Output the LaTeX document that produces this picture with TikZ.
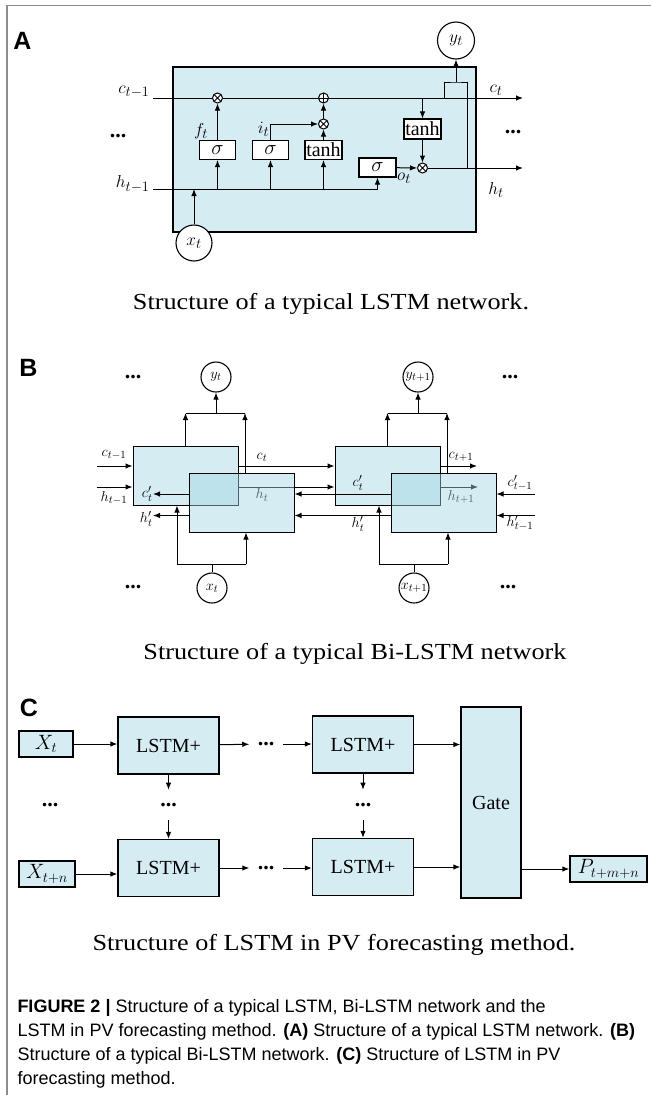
\documentclass[tikz,border=0pt]{standalone}
\usepackage{graphicx}
\usepackage{fontspec}
\setmainfont{Liberation Serif}
\setsansfont{Liberation Sans}
\usetikzlibrary{arrows.meta,positioning}
\definecolor{cellblue}{RGB}{213,236,243}
\definecolor{cellbase}{RGB}{162,213,228}
\definecolor{framegray}{RGB}{140,140,140}
\newcommand\widecap[1]{\scalebox{1.14}[1]{#1}}

\begin{document}
\begin{tikzpicture}[x=1pt,y=-1pt,line width=1pt,>={Latex[length=7pt,width=5.5pt]},
  panlbl/.style={font=\fontsize{25}{25}\selectfont\sffamily\bfseries,inner sep=0pt},
  capt/.style={font=\fontsize{23}{23}\selectfont,inner sep=0pt,anchor=base},
  lbl/.style={font=\fontsize{19}{19}\selectfont,inner sep=0pt},
  lblB/.style={font=\fontsize{15.5}{15.5}\selectfont,inner sep=0pt},
  dotsn/.style={font=\fontsize{22}{22}\selectfont\bfseries,inner sep=0pt},
  cell/.style={draw,line width=1.3pt,fill=cellblue,inner sep=0pt},
  gatebox/.style={draw,line width=1.1pt,fill=white,inner sep=0pt,minimum width=36pt,minimum height=19pt,font=\fontsize{20}{20}\selectfont},
  mult/.style={circle,draw,fill=white,inner sep=0pt,minimum size=10pt,
    path picture={\draw[line width=0.8pt] (path picture bounding box.north west) -- (path picture bounding box.south east)
      (path picture bounding box.north east) -- (path picture bounding box.south west);}},
  addn/.style={circle,draw,fill=white,inner sep=0pt,minimum size=10pt,
    path picture={\draw[line width=0.8pt] (path picture bounding box.north) -- (path picture bounding box.south)
      (path picture bounding box.east) -- (path picture bounding box.west);}},
  unit/.style={circle,draw,line width=1.1pt,fill=white,inner sep=0pt},
  bibox/.style={draw,fill=cellbase,fill opacity=0.45,text opacity=1,minimum width=105pt,minimum height=59pt},
  lstm/.style={cell,minimum width=101pt,minimum height=57pt,font=\fontsize{20}{20}\selectfont},
  inbox/.style={cell,minimum height=26pt,font=\fontsize{20}{20}\selectfont},
  cdots/.style={dotsn,inner xsep=8pt,inner ysep=13pt}]
  \useasboundingbox (0,0) rectangle (651,1095);
  \draw[framegray,line width=1.2pt] (7,1095) -- (7,5.5) -- (651,5.5);

  % --- A: typical LSTM cell
  \node[panlbl] (labA) at (22.5,41) {A};
  \node[cell,minimum width=303pt,minimum height=165pt] (cellA) at (324.5,149.5) {};
  \coordinate (cin) at (153,98);
  \coordinate (cout) at (523,98);
  \coordinate (hin) at (153,189);
  \coordinate (hout) at (523,168);
  \node[mult] (mf) at (217.5,98) {};
  \node[addn] (ad) at (323.5,98) {};
  \node[mult] (mi) at (323.5,124) {};
  \node[gatebox] (sf) at (217.5,150) {$\sigma$};
  \node[gatebox] (si) at (270.5,150) {$\sigma$};
  \node[gatebox,minimum width=37pt] (tg) at (323.5,150) {tanh};
  \node[gatebox,minimum width=37pt] (so) at (377.5,167.5) {$\sigma$};
  \node[gatebox,minimum width=37pt,minimum height=20pt] (to) at (422.5,129) {tanh};
  \node[mult] (mo) at (422.5,168) {};
  \node[unit,minimum size=37pt,font=\fontsize{19}{19}\selectfont] (yA) at (456,40.5) {$y_t$};
  \node[unit,minimum size=36pt,font=\fontsize{19}{19}\selectfont] (xA) at (194,243) {$x_t$};
  \draw[->] (cin) -- (mf) -- (ad) -- (cout);
  \draw[->] (hin) -| (so);
  \draw[->] (xA) -- (xA |- hin);
  \draw[->] (sf |- hin) -- (sf);
  \draw[->] (si |- hin) -- (si);
  \draw[->] (tg |- hin) -- (tg);
  \draw[->] (sf) -- (mf);
  \draw[->] (si) |- (mi);
  \draw[->] (tg) -- (mi);
  \draw[->] (mi) -- (ad);
  \draw[->] (to |- cin) -- (to);
  \draw[->] (to) -- (mo);
  \draw[->] (so) -- (mo);
  \draw[->] (mo) -- (hout);
  \coordinate (brL) at (444,98);
  \coordinate (brT) at (456,82);
  \coordinate (brR) at (467,168);
  \draw (brL) |- (brT) -| (brR);
  \draw[->] (brT) -- (yA);
  \node[lbl,anchor=east] (lcA) at (150,92) {$c_{t-1}$};
  \node[lbl,anchor=east] (lhA) at (150,184) {$h_{t-1}$};
  \node[lbl] (lctA) at (496,90) {$c_t$};
  \node[lbl] (lhtA) at (496,190) {$h_t$};
  \node[lbl] (lf) at (201,131) {$f_t$};
  \node[lbl] (li) at (263.5,129) {$i_t$};
  \node[lbl] (lo) at (404,178) {$o_t$};
  \node[dotsn] (dA1) at (118,136) {...};
  \node[dotsn] (dA2) at (513,132) {...};
  \node[capt] (capA) at (331,309) {\widecap{Structure of a typical LSTM network.}};

  % --- B: Bi-LSTM
  \node[panlbl] (labB) at (28.5,367.5) {B};
  \foreach \dx [count=\k] in {0,202} {
    \node[bibox] (fw\k) at (185.5+\dx,475.5) {};
    \coordinate (tp\k) at (216+\dx,413);
    \coordinate (rt\k) at (245+\dx,413);
    \coordinate (bt\k) at (212+\dx,564);
    \coordinate (bl\k) at (177+\dx,564);
    \coordinate (br\k) at (246+\dx,564);
  }
  \node[unit,minimum size=30pt,font=\fontsize{15.5}{15.5}\selectfont] (yB1) at (216,377) {$y_t$};
  \node[unit,minimum size=30pt,font=\fontsize{15.5}{15.5}\selectfont] (yB2) at (418,377) {$y_{t+1}$};
  \node[unit,minimum size=30pt,font=\fontsize{15.5}{15.5}\selectfont] (xB1) at (212,588) {$x_t$};
  \node[unit,minimum size=30pt,font=\fontsize{15.5}{15.5}\selectfont] (xB2) at (414,588) {$x_{t+1}$};
  \coordinate (hf2) at (478,487);
  \draw[->] ([yshift=-11.5pt]fw1.east) -- ([yshift=-11.5pt]fw2.west);
  \draw[->] ([yshift=-11.5pt]fw2.east) -- (hf2);
  \node[lblB] (lht1) at (262,495) {$h_t$};
  \node[lblB] (lht2) at (461,497) {$h_{t+1}$};
  \foreach \dx [count=\k] in {0,202}
    \node[bibox] (bw\k) at (241.5+\dx,502.5) {};
  \coordinate (cinB) at (97,466);
  \coordinate (hinB) at (97,487);
  \coordinate (cf2) at (477,466);
  \coordinate (cbin) at (535,494);
  \coordinate (hbin) at (535,515.5);
  \draw[->] (cinB) -- (cinB -| fw1.west);
  \draw[->] (hinB) -- (hinB -| fw1.west);
  \draw[->] ([yshift=9.5pt]fw1.east) -- ([yshift=9.5pt]fw2.west);
  \draw[->] ([yshift=9.5pt]fw2.east) -- (cf2);
  \draw[->] (cbin) -- (cbin -| bw2.east);
  \draw[->] (hbin) -- (hbin -| bw2.east);
  \draw[->] ([yshift=8.5pt]bw2.west) -- ([yshift=8.5pt]bw1.east);
  \draw[->] ([yshift=-13pt]bw2.west) -- ([yshift=-13pt]bw1.east);
  \node[lblB,anchor=east] (lcb1) at (153,494) {$c'_t$};
  \node[lblB,anchor=east] (lhb1) at (153,519) {$h'_t$};
  \draw[->] ([yshift=8.5pt]bw1.west) -- (lcb1);
  \draw[->] ([yshift=-13pt]bw1.west) -- (lhb1.east |- 0,515.5);
  \foreach \k in {1,2} {
    \draw[->] (fw\k.north) -- (fw\k.north |- tp\k);
    \draw[->] (bw\k.north -| rt\k) -- (rt\k);
    \draw (fw\k.north |- tp\k) -- (rt\k);
    \draw[->] (tp\k) -- (yB\k);
    \draw (xB\k) -- (bt\k);
    \draw (bl\k) -- (br\k);
    \draw[->] (bl\k) -- (bl\k |- fw\k.south);
    \draw[->] (br\k) -- (br\k |- bw\k.south);
  }
  \node[lblB] (lcB) at (114,455) {$c_{t-1}$};
  \node[lblB] (lhB) at (114,498) {$h_{t-1}$};
  \node[lblB] (lct1) at (262,457) {$c_t$};
  \node[lblB] (lct2) at (461,457) {$c_{t+1}$};
  \node[lblB] (lcb2) at (358,483) {$c'_t$};
  \node[lblB] (lhb2) at (358,524) {$h'_t$};
  \node[lblB] (lcb3) at (520,483) {$c'_{t-1}$};
  \node[lblB] (lhb3) at (520,523) {$h'_{t-1}$};
  \node[dotsn] (dB1) at (133,377) {...};
  \node[dotsn] (dB2) at (133,587) {...};
  \node[dotsn] (dB3) at (510,377) {...};
  \node[dotsn] (dB4) at (508,587) {...};
  \node[capt] (capB) at (355,659) {\widecap{Structure of a typical Bi-LSTM network}};

  % --- C: LSTM in PV forecasting
  \node[panlbl] (labC) at (29,708) {C};
  \node[inbox,minimum width=54pt] (xC1) at (46,744) {$X_t$};
  \node[inbox,minimum width=56pt] (xC2) at (47,874) {$X_{t+n}$};
  \node[lstm] (L1) at (168.5,745.5) {LSTM+};
  \node[lstm] (L2) at (363,744.5) {LSTM+};
  \node[lstm] (L3) at (168.5,868) {LSTM+};
  \node[lstm] (L4) at (363,867) {LSTM+};
  \node[cell,minimum width=60pt,minimum height=191pt,font=\fontsize{20}{20}\selectfont] (gate) at (491,802.5) {Gate};
  \node[inbox,minimum width=77pt] (pout) at (608.5,869) {$P_{t+m+n}$};
  \node[cdots] (dC1) at (266,744) {...};
  \node[cdots] (dC2) at (266,868) {...};
  \node[cdots] (dC3) at (168.5,805) {...};
  \node[cdots] (dC4) at (363,805) {...};
  \node[dotsn] (dC5) at (50,805) {...};
  \draw[->] (xC1) -- (xC1 -| L1.west);
  \draw[->] (xC2) -- (xC2 -| L3.west);
  \draw[->] (L1) -- (dC1);
  \draw[->] (dC1) -- (dC1 -| L2.west);
  \draw[->] (L3) -- (dC2);
  \draw[->] (dC2) -- (dC2 -| L4.west);
  \draw[->] (L1) -- (dC3);
  \draw[->] (dC3) -- (L3);
  \draw[->] (L2) -- (dC4);
  \draw[->] (dC4) -- (L4);
  \draw[->] (L2) -- (L2 -| gate.west);
  \draw[->] (L4) -- (L4 -| gate.west);
  \draw[->] (gate.east |- pout) -- (pout);
  \node[capt] (capC) at (334,950) {\widecap{Structure of LSTM in PV forecasting method.}};

  % --- figure caption
  \node[anchor=north west,align=left,inner sep=0pt,font=\fontsize{18}{24}\selectfont\sffamily] (figcap) at (17,999)
    {\textbf{FIGURE 2 |} Structure of a typical LSTM, Bi-LSTM network and the\\
     LSTM in PV forecasting method. \textbf{(A)} Structure of a typical LSTM network. \textbf{(B)}\\
     Structure of a typical Bi-LSTM network. \textbf{(C)} Structure of LSTM in PV\\
     forecasting method.};
\end{tikzpicture}
\end{document}
